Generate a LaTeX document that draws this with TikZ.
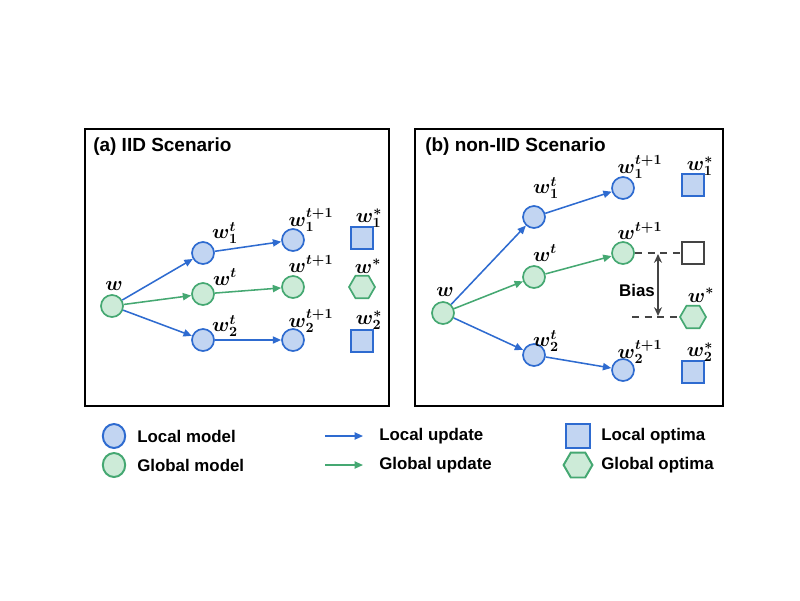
\documentclass[tikz,border=0pt]{standalone}
\usepackage{fontspec}
\setmainfont{Liberation Sans}
\usepackage{bm}
\usepackage{xcolor}
\definecolor{localBlue}{HTML}{2E6BD0}
\definecolor{localFill}{HTML}{C2D5F2}
\definecolor{globalGreen}{HTML}{45A872}
\definecolor{globalFill}{HTML}{CDEBD8}
\definecolor{biasGray}{HTML}{444444}
\usetikzlibrary{
    shapes.geometric,
    arrows.meta,
    positioning
}
\tikzset{
    % Panel frames and titles
    panel/.style={
        draw=black,
        line width=1.4pt,
    },
    panel title/.style={
        font=\bfseries\fontsize{13.5}{15}\selectfont,
        anchor=west,
        inner sep=0pt,
    },
    % Model nodes - circles
    local model/.style={
        circle,
        draw=localBlue,
        fill=localFill,
        line width=1.2pt,
        minimum size=0.55cm,
        inner sep=0pt,
    },
    global model/.style={
        local model,
        draw=globalGreen,
        fill=globalFill,
    },
    % Optima - square and hexagon
    local optimum/.style={
        rectangle,
        draw=localBlue,
        fill=localFill,
        line width=1.2pt,
        minimum size=0.56cm,
        inner sep=0pt,
    },
    global optimum/.style={
        regular polygon,
        regular polygon sides=6,
        draw=globalGreen,
        fill=globalFill,
        line width=1.2pt,
        minimum size=0.65cm,
        inner sep=0pt,
    },
    empty optimum/.style={
        local optimum,
        draw=biasGray,
        fill=white,
    },
    % Update arrows
    local update/.style={
        -{Triangle[length=2.1mm, width=1.8mm]},
        line width=1.1pt,
        draw=localBlue,
    },
    global update/.style={
        local update,
        draw=globalGreen,
    },
    % Bias marks
    bias line/.style={
        dashed,
        dash pattern=on 5pt off 4pt,
        line width=1.1pt,
        draw=biasGray,
    },
    bias arrow/.style={
        {Stealth[length=2.2mm, width=2mm]}-{Stealth[length=2.2mm, width=2mm]},
        line width=1.1pt,
        draw=biasGray,
    },
    % Math labels above the nodes
    weight/.style={
        font=\fontsize{14.5}{16}\selectfont,
        inner sep=0pt,
    },
    legend text/.style={
        font=\bfseries\fontsize{12}{14}\selectfont,
        anchor=west,
        inner sep=0pt,
    },
}

\begin{document}
\begin{tikzpicture}[x=0.025cm, y=-0.025cm]
    \useasboundingbox (0,0) rectangle (800,600);

    % ---------- (a) IID Scenario ----------
    \draw [panel] (85,129) rectangle (389,406);
    \node (a_title) [panel title] at (93,147) {(a) IID Scenario};

    \node (a_w) [global model] at (112,306) {};
    \node (a_w1t) [local model] at (203,253) {};
    \node (a_wt) [global model] at (203,294) {};
    \node (a_w2t) [local model] at (203,340) {};
    \node (a_w1n) [local model] at (293,240) {};
    \node (a_wn) [global model] at (293,287) {};
    \node (a_w2n) [local model] at (293,340) {};
    \node (a_opt1) [local optimum] at (362,238) {};
    \node (a_opt) [global optimum] at (362,287) {};
    \node (a_opt2) [local optimum] at (362,341) {};

    \node (a_w_lab) [weight] at (114,286) {$\bm{w}$};
    \node (a_w1t_lab) [weight] at (225,233) {$\bm{w_1^t}$};
    \node (a_wt_lab) [weight] at (225,277) {$\bm{w^t}$};
    \node (a_w2t_lab) [weight] at (225,326) {$\bm{w_2^t}$};
    \node (a_w1n_lab) [weight] at (311,220) {$\bm{w_1^{t+1}}$};
    \node (a_wn_lab) [weight] at (311,264) {$\bm{w^{t+1}}$};
    \node (a_w2n_lab) [weight] at (311,321) {$\bm{w_2^{t+1}}$};
    \node (a_opt1_lab) [weight] at (369,218) {$\bm{w_1^*}$};
    \node (a_opt_lab) [weight] at (368,266) {$\bm{w^*}$};
    \node (a_opt2_lab) [weight] at (369,320) {$\bm{w_2^*}$};

    \draw [local update] (a_w) -- (a_w1t);
    \draw [global update] (a_w) -- (a_wt);
    \draw [local update] (a_w) -- (a_w2t);
    \draw [local update] (a_w1t) -- (a_w1n);
    \draw [global update] (a_wt) -- (a_wn);
    \draw [local update] (a_w2t) -- (a_w2n);

    % ---------- (b) non-IID Scenario ----------
    \draw [panel] (415,129) rectangle (723,406);
    \node (b_title) [panel title] at (425,147) {(b) non-IID Scenario};

    \node (b_w) [global model] at (443,313) {};
    \node (b_w1t) [local model] at (534,217) {};
    \node (b_wt) [global model] at (534,277) {};
    \node (b_w2t) [local model] at (534,355) {};
    \node (b_w1n) [local model] at (623,188) {};
    \node (b_wn) [global model] at (623,253) {};
    \node (b_w2n) [local model] at (623,370) {};
    \node (b_opt1) [local optimum] at (693,185) {};
    \node (b_drift) [empty optimum] at (693,253) {};
    \node (b_opt) [global optimum] at (693,317) {};
    \node (b_opt2) [local optimum] at (693,372) {};

    \node (b_w_lab) [weight] at (445,292) {$\bm{w}$};
    \node (b_w1t_lab) [weight] at (546,188) {$\bm{w_1^t}$};
    \node (b_wt_lab) [weight] at (545,253) {$\bm{w^t}$};
    \node (b_w2t_lab) [weight] at (546,341) {$\bm{w_2^t}$};
    \node (b_w1n_lab) [weight] at (640,167) {$\bm{w_1^{t+1}}$};
    \node (b_wn_lab) [weight] at (640,231) {$\bm{w^{t+1}}$};
    \node (b_w2n_lab) [weight] at (640,352) {$\bm{w_2^{t+1}}$};
    \node (b_opt1_lab) [weight] at (700,166) {$\bm{w_1^*}$};
    \node (b_opt_lab) [weight] at (701,295) {$\bm{w^*}$};
    \node (b_opt2_lab) [weight] at (700,352) {$\bm{w_2^*}$};

    \draw [local update] (b_w) -- (b_w1t);
    \draw [global update] (b_w) -- (b_wt);
    \draw [local update] (b_w) -- (b_w2t);
    \draw [local update] (b_w1t) -- (b_w1n);
    \draw [global update] (b_wt) -- (b_wn);
    \draw [local update] (b_w2t) -- (b_w2n);

    % bias between drifted and true global optimum
    \coordinate (b_top) at (658,254);
    \coordinate (b_bot) at (658,316);
    \coordinate (b_low) at (632,317);
    \draw [bias line] (b_wn) -- (b_drift);
    \draw [bias line] (b_low) -- (b_opt);
    \draw [bias arrow] (b_top) -- (b_bot);
    \node (b_bias) [font=\bfseries\fontsize{12}{14}\selectfont] at (637,290) {Bias};

    % ---------- legend ----------
    \node (lg_local) [local model, ellipse, line width=1.4pt, minimum width=0.56cm, minimum height=0.6cm] at (114,436) {};
    \node (lg_local_txt) [legend text] at (137,436) {Local model};
    \node (lg_global) [global model, ellipse, line width=1.4pt, minimum width=0.56cm, minimum height=0.6cm] at (114,465) {};
    \node (lg_global_txt) [legend text] at (137,465) {Global model};

    \coordinate (lg_lu_s) at (325,436);
    \coordinate (lg_lu_e) at (363,436);
    \draw [local update] (lg_lu_s) -- (lg_lu_e);
    \node (lg_lu_txt) [legend text] at (379,436) {Local update};
    \coordinate (lg_gu_s) at (325,465);
    \coordinate (lg_gu_e) at (363,465);
    \draw [global update] (lg_gu_s) -- (lg_gu_e);
    \node (lg_gu_txt) [legend text] at (379,465) {Global update};

    \node (lg_lo) [local optimum, line width=1.4pt, minimum size=0.62cm] at (578,436) {};
    \node (lg_lo_txt) [legend text] at (601,436) {Local optima};
    \node (lg_go) [global optimum, line width=1.4pt, minimum size=0.72cm] at (578,465) {};
    \node (lg_go_txt) [legend text] at (601,465) {Global optima};
\end{tikzpicture}
\end{document}
